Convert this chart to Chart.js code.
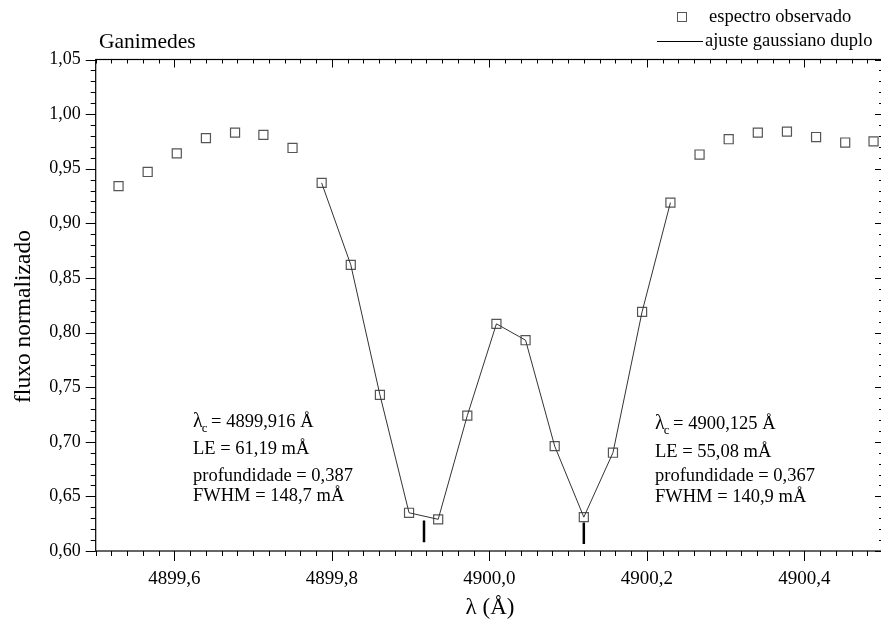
<!DOCTYPE html>
<html><head><meta charset="utf-8">
<script src="https://cdn.jsdelivr.net/npm/chart.js@4/dist/chart.umd.min.js"></script>
<style>html,body{margin:0;padding:0;background:#fff;overflow:hidden}#wrap{width:881px;height:621px;overflow:hidden}</style>
</head><body><div id="wrap"><canvas id="c" width="884" height="621"></canvas></div>
<script>
// ---- data ----
const wavelengths = [4899.529, 4899.566, 4899.603, 4899.640, 4899.677, 4899.713, 4899.750, 4899.787, 4899.824,
  4899.861, 4899.898, 4899.935, 4899.972, 4900.009, 4900.046, 4900.083, 4900.120, 4900.157, 4900.194,
  4900.230, 4900.267, 4900.304, 4900.341, 4900.378, 4900.415, 4900.452, 4900.488];
const observedFlux = [0.934, 0.947, 0.964, 0.978, 0.983, 0.981, 0.969, 0.937, 0.862,
  0.743, 0.635, 0.629, 0.724, 0.808, 0.793, 0.696, 0.631, 0.690, 0.819,
  0.919, 0.963, 0.977, 0.983, 0.984, 0.979, 0.974, 0.975];
const fitWavelengths = [4899.787, 4899.824, 4899.861, 4899.898, 4899.935, 4899.972, 4900.009,
  4900.046, 4900.083, 4900.120, 4900.157, 4900.194, 4900.230];
const fitFlux = [0.937, 0.862, 0.743, 0.635, 0.629, 0.724, 0.808, 0.793, 0.696, 0.631, 0.690, 0.819, 0.919];
const centerWavelengths = [4899.917, 4900.120];
const centerTop = [0.628, 0.626];
const centerBottom = [0.608, 0.6065];
const xTickValues = [4899.6, 4899.8, 4900.0, 4900.2, 4900.4];
const xTickLabels = ['4899,6', '4899,8', '4900,0', '4900,2', '4900,4'];
const yTickValues = [0.60, 0.65, 0.70, 0.75, 0.80, 0.85, 0.90, 0.95, 1.00, 1.05];
const yTickLabels = ['0,60', '0,65', '0,70', '0,75', '0,80', '0,85', '0,90', '0,95', '1,00', '1,05'];
const chartTitle = 'Ganimedes';
const xTitle = 'λ (Å)';
const yTitle = 'fluxo normalizado';
const seriesNames = ['espectro observado', 'ajuste gaussiano duplo'];
const leftNote = ['λ', 'c', ' = 4899,916 Å', 'LE = 61,19 mÅ', 'profundidade = 0,387', 'FWHM = 148,7 mÅ'];
const rightNote = ['λ', 'c', ' = 4900,125 Å', 'LE = 55,08 mÅ', 'profundidade = 0,367', 'FWHM = 140,9 mÅ'];

const FONT = "'Liberation Serif', 'Times New Roman', serif";
Chart.defaults.font.family = FONT;
Chart.defaults.color = '#000';

function pts(xs, ys) { return xs.map((x, i) => ({x: x, y: ys[i]})); }

const markerSets = centerWavelengths.map((w, i) => ({
  type: 'line', data: [{x: w, y: centerTop[i]}, {x: w, y: centerBottom[i]}],
  borderColor: '#000', borderWidth: 2.5, pointRadius: 0, showLine: true, fill: false
}));

const framePlugin = {
  id: 'framePlugin',
  afterDraw(chart) {
    const ctx = chart.ctx, a = chart.chartArea, xs = chart.scales.x, ys = chart.scales.y;
    ctx.save();
    ctx.strokeStyle = '#000';
    ctx.lineWidth = 1.2;
    ctx.strokeRect(a.left, a.top, a.right - a.left, a.bottom - a.top);
    ctx.lineWidth = 1;
    ctx.beginPath();
    for (let i = 0; i <= 50; i++) {
      const v = 4899.5 + i * 0.02;
      const px = Math.round(xs.getPixelForValue(v)) + 0.5;
      const major = (i % 10 === 5);
      ctx.moveTo(px, a.bottom); ctx.lineTo(px, a.bottom + (major ? 10 : 5));
      ctx.moveTo(px, a.top); ctx.lineTo(px, a.top + (major ? 8 : 4));
    }
    for (let i = 0; i <= 45; i++) {
      const v = 0.60 + i * 0.01;
      const py = Math.round(ys.getPixelForValue(v)) + 0.5;
      const major = (i % 5 === 0);
      ctx.moveTo(a.left, py); ctx.lineTo(a.left - (major ? 10 : 5), py);
      ctx.moveTo(a.right, py); ctx.lineTo(a.right - (major ? 8 : 4), py);
    }
    ctx.stroke();

    // texts
    ctx.fillStyle = '#000';
    ctx.textBaseline = 'alphabetic';
    ctx.textAlign = 'left';
    ctx.font = '21.5px ' + FONT;
    ctx.fillText(chartTitle, 99, 48);

    ctx.font = '23px ' + FONT;
    ctx.textAlign = 'center';
    ctx.fillText(xTitle, 490, 614);

    ctx.save();
    ctx.translate(30, 316.5);
    ctx.rotate(-Math.PI / 2);
    ctx.font = '23.5px ' + FONT;
    ctx.fillText(yTitle, 0, 0);
    ctx.restore();

    function note(lines, x, bases) {
      ctx.textAlign = 'left';
      ctx.font = '20px ' + FONT;
      ctx.fillText(lines[0], x, bases[0]);
      let w = ctx.measureText(lines[0]).width;
      ctx.font = '13px ' + FONT;
      ctx.fillText(lines[1], x + w - 1, bases[0] + 5);
      const w2 = ctx.measureText(lines[1]).width;
      ctx.font = '18.5px ' + FONT;
      ctx.fillText(lines[2], x + w + w2 - 2, bases[0]);
      for (let i = 3; i < lines.length; i++) ctx.fillText(lines[i], x, bases[i - 2]);
    }
    note(leftNote, 193, [426.5, 454, 480.5, 501]);
    note(rightNote, 655, [429, 456.5, 480.5, 501.5]);

    // legend
    ctx.strokeStyle = '#555';
    ctx.lineWidth = 1;
    ctx.strokeRect(677.5, 12.5, 9, 9);
    ctx.strokeStyle = '#000';
    ctx.beginPath(); ctx.moveTo(657, 41.5); ctx.lineTo(703, 41.5); ctx.stroke();
    ctx.font = '18.5px ' + FONT;
    ctx.fillText(seriesNames[0], 709, 22);
    ctx.fillText(seriesNames[1], 705, 46);
    ctx.restore();
  }
};

new Chart(document.getElementById('c'), {
  data: {
    datasets: [
      { type: 'line', label: seriesNames[1], data: pts(fitWavelengths, fitFlux),
        borderColor: '#333', borderWidth: 1, pointRadius: 0, tension: 0, fill: false },
      { type: 'scatter', label: seriesNames[0], data: pts(wavelengths, observedFlux),
        pointStyle: 'rect', pointRadius: 6.4, borderColor: '#555', borderWidth: 1.2,
        backgroundColor: 'rgba(0,0,0,0)', showLine: false },
      ...markerSets
    ]
  },
  options: {
    responsive: false, animation: false, devicePixelRatio: 1,
    layout: { autoPadding: false, padding: { left: 0, top: 59.5, right: 1, bottom: 0 } },
    plugins: { legend: { display: false }, tooltip: { enabled: false }, title: { display: false } },
    scales: {
      x: {
        type: 'linear', min: 4899.5, max: 4900.5,
        afterBuildTicks: s => { s.ticks = xTickValues.map(v => ({value: v})); },
        afterFit: s => { s.height = 70; },
        ticks: { callback: (v, i) => xTickLabels[i], font: { size: 19 }, color: '#000', padding: 9,
                 maxRotation: 0, autoSkip: false },
        grid: { display: false }, border: { display: false }
      },
      y: {
        type: 'linear', min: 0.60, max: 1.05,
        afterBuildTicks: s => { s.ticks = yTickValues.map(v => ({value: v})); },
        afterFit: s => { s.width = 95.7; },
        ticks: { callback: (v, i) => yTickLabels[i], font: { size: 18 }, color: '#000', padding: 7,
                 autoSkip: false },
        grid: { display: false }, border: { display: false }
      }
    }
  },
  plugins: [framePlugin]
});
</script></body></html>
